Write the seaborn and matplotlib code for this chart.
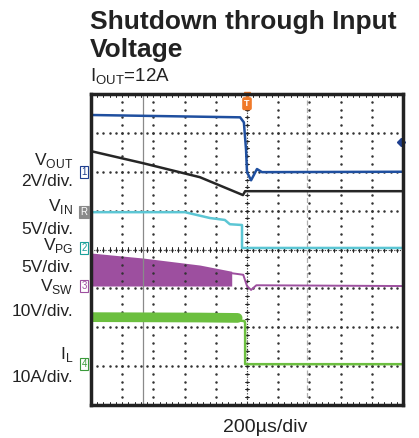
import numpy as np
import pandas as pd
import matplotlib
matplotlib.use('Agg')
import matplotlib.pyplot as plt
import seaborn as sns

# scope traces, x in divisions (200us/div), y in divisions from bottom of screen
t_vout = [0, 4.78, 4.90, 4.97, 5.00, 5.13, 5.32, 5.48, 10]
v_vout = [7.46, 7.40, 7.27, 6.56, 5.99, 5.78, 6.07, 5.99, 6.00]

t_ref = [0, 1.67, 3.49, 4.87, 4.94, 10]
v_ref = [6.53, 6.22, 5.86, 5.40, 5.50, 5.50]

t_vin = [0, 3.01, 3.81, 4.29, 4.45, 4.84, 4.84, 10]
v_vin = [4.96, 4.96, 4.81, 4.76, 4.65, 4.63, 4.04, 4.04]

t_sw_band = [0, 1.67, 3.49, 4.51]
sw_top = [3.91, 3.78, 3.60, 3.44]
sw_bot = [3.06, 3.06, 3.06, 3.06]
t_sw = [4.51, 4.88, 5.00, 5.13, 5.30, 10]
v_sw = [3.39, 3.35, 3.06, 2.96, 3.08, 3.06]

t_il_on = [0, 3.49, 4.70]
v_il_on = [2.26, 2.25, 2.24]
t_il_off = [4.70, 4.78, 4.92, 4.94, 4.94, 10]
v_il_off = [2.24, 2.17, 2.16, 2.10, 1.05, 1.05]

sns.set_style('white')
plt.rcParams['font.family'] = ['Liberation Sans', 'DejaVu Sans']

fig = plt.figure(figsize=(4.19, 4.38), dpi=100)
ax = fig.add_axes([91 / 419, 33 / 438, 312 / 419, 311 / 438])
ax.set_xlim(0, 10)
ax.set_ylim(0, 8)

# grid (dotted), center axes with ticks, cursors
for gx in range(1, 10):
    ax.plot([gx] * 41, np.linspace(0, 8, 41), ls='none', marker='.', ms=1.6, color='#333333')
for gy in range(1, 8):
    ax.plot(np.linspace(0, 10, 51), [gy] * 51, ls='none', marker='.', ms=1.6, color='#333333')
ax.axvline(1.67, color='#8a8a8a', lw=0.9)
ax.axvline(6.92, color='#b0b0b0', lw=0.9, ls=(0, (4, 2)))
ax.axvline(5, color='#333333', lw=0.8, ls=(0, (1, 1.5)))
ax.axhline(4, color='#333333', lw=0.8, ls=(0, (1, 1.5)))
for k in np.arange(0, 10.01, 0.2):
    ax.plot([k, k], [3.93, 4.07], color='#222222', lw=0.7)
    ax.plot([k, k], [7.93, 8.0], color='#222222', lw=0.7)
    ax.plot([k, k], [0.0, 0.07], color='#222222', lw=0.7)
for k in np.arange(0, 8.01, 0.2):
    ax.plot([4.93, 5.07], [k, k], color='#222222', lw=0.7)

# traces
ax.fill_between(t_sw_band, sw_bot, sw_top, color='#9d4f9f', lw=0)
sns.lineplot(x=t_sw, y=v_sw, sort=False, estimator=None, color='#9d4f9f', lw=1.4, ax=ax)
sns.lineplot(x=t_il_on, y=v_il_on, sort=False, estimator=None, color='#6cbf3f', lw=7, ax=ax)
sns.lineplot(x=t_il_off, y=v_il_off, sort=False, estimator=None, color='#6cbf3f', lw=1.8, ax=ax)
sns.lineplot(x=t_vin, y=v_vin, sort=False, estimator=None, color='#5cc6d4', lw=1.8, ax=ax)
sns.lineplot(x=t_ref, y=v_ref, sort=False, estimator=None, color='#262626', lw=1.8, ax=ax)
sns.lineplot(x=t_vout, y=v_vout, sort=False, estimator=None, color='#1f4f9f', lw=1.8, ax=ax)

ax.set_xticks([])
ax.set_yticks([])
ax.set_xlabel('')
ax.set_ylabel('')
for s in ax.spines.values():
    s.set_linewidth(2.5)
    s.set_color('#222222')

# channel markers
markers = [('1', 5.99, '#1f3f8f', 'white'), ('R', 4.96, 'white', '#8a8a8a'),
           ('2', 4.04, '#1aa09a', 'white'), ('3', 3.06, '#9d4f9f', 'white'),
           ('4', 1.05, '#3a9a3a', 'white')]
for lab, yy, ec, fc in markers:
    ax.text(-0.22, yy, lab, ha='center', va='center', fontsize=7,
            color=ec if fc == 'white' else 'white',
            bbox=dict(boxstyle='square,pad=0.12', fc=fc, ec=ec if fc == 'white' else fc, lw=0.8),
            clip_on=False)
ax.plot([9.95], [6.76], marker='D', ms=4, color='#1f3f8f', clip_on=False)
ax.plot([5.0], [7.98], marker='v', ms=5, color='#f07a2a', clip_on=False)
ax.text(5.0, 7.75, 'T', ha='center', va='center', fontsize=6.5, color='white', fontweight='bold',
        bbox=dict(boxstyle='round,pad=0.15', fc='#f07a2a', ec='#f07a2a'))

# titles and labels
fig.text(90 / 419, 1 - 22 / 438, 'Shutdown through Input', fontsize=19, fontweight='bold',
         color='#222222', va='center', ha='left')
fig.text(90 / 419, 1 - 50 / 438, 'Voltage', fontsize=19, fontweight='bold',
         color='#222222', va='center', ha='left')
fig.text(90 / 419, 1 - 77 / 438, r'I$_{\mathregular{OUT}}$=12A', fontsize=13.5,
         color='#222222', va='center', ha='left')

side = [(r'V$_{\mathregular{OUT}}$', 160), ('2V/div.', 181),
        (r'V$_{\mathregular{IN}}$', 207), ('5V/div.', 229),
        (r'V$_{\mathregular{PG}}$', 245), ('5V/div.', 267),
        (r'V$_{\mathregular{SW}}$', 287), ('10V/div.', 311),
        (r'I$_{\mathregular{L}}$', 355), ('10A/div.', 377)]
for txt, ypx in side:
    fig.text(73 / 419, 1 - ypx / 438, txt, fontsize=12.5, color='#222222', ha='right', va='center')

fig.text(265 / 419, 1 - 427 / 438, '200µs/div', fontsize=14, color='#222222', ha='center', va='center')

fig.savefig('out.png', dpi=100)
